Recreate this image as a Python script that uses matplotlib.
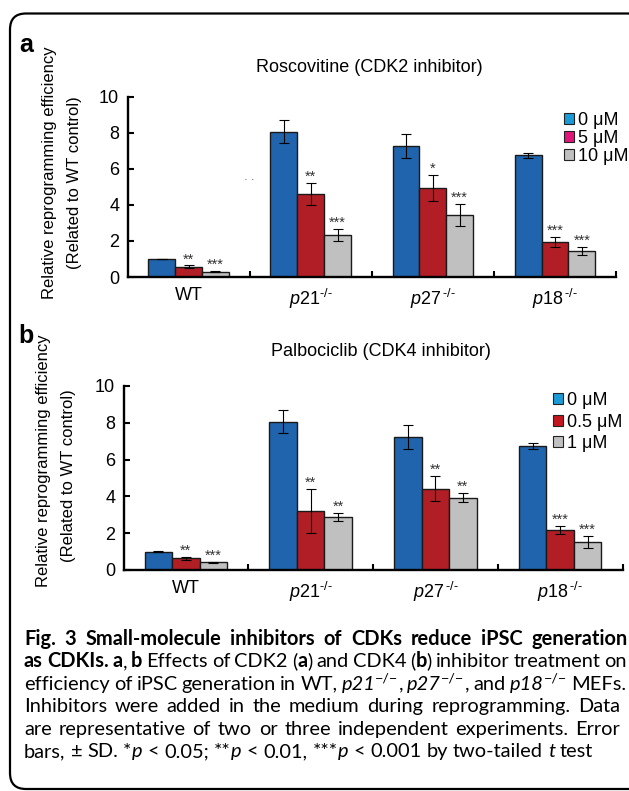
import matplotlib
matplotlib.use("Agg")
import matplotlib.pyplot as plt
import matplotlib.patches as mpatches
import numpy as np

plt.rcParams['font.family'] = ['Liberation Sans', 'DejaVu Sans']
plt.rcParams['mathtext.fontset'] = 'custom'
plt.rcParams['mathtext.rm'] = 'Liberation Sans'
plt.rcParams['mathtext.it'] = 'Liberation Sans:italic'
plt.rcParams['mathtext.bf'] = 'Liberation Sans:bold'

# ---------------- data ----------------
categories = ["WT", r"$\mathit{p21}^{\mathit{\text{-/-}}}$", r"$\mathit{p27}^{\,\mathit{\text{-/-}}}$",
              r"$\mathit{p18}^{\,\mathit{\text{-/-}}}$"]

title_a = "Roscovitine (CDK2 inhibitor)"
labels_a = ["0 μM", "5 μM", "10 μM"]
values_a = [[1.00, 8.06, 7.26, 6.74],
            [0.57, 4.59, 4.94, 1.94],
            [0.30, 2.31, 3.44, 1.43]]
errors_a = [[0.02, 0.62, 0.65, 0.15],
            [0.07, 0.60, 0.71, 0.30],
            [0.05, 0.33, 0.60, 0.22]]
stars_a = [["", "", "", ""],
           ["**", "**", "*", "***"],
           ["***", "***", "***", "***"]]

title_b = "Palbociclib (CDK4 inhibitor)"
labels_b = ["0 μM", "0.5 μM", "1 μM"]
values_b = [[1.00, 8.05, 7.25, 6.72],
            [0.63, 3.21, 4.42, 2.19],
            [0.42, 2.88, 3.93, 1.54]]
errors_b = [[0.02, 0.62, 0.65, 0.16],
            [0.08, 1.20, 0.67, 0.22],
            [0.04, 0.23, 0.23, 0.33]]
stars_b = [["", "", "", ""],
           ["**", "**", "**", "***"],
           ["***", "**", "**", "***"]]

yticks = [0, 2, 4, 6, 8, 10]
ylabel_1 = "Relative reprogramming efficiency"
ylabel_2 = "(Related to WT control)"

bar_colors = ["#1F64AC", "#B21E26", "#C0C0C0"]
legend_colors_a = ["#1A9BD7", "#E2157A", "#C0C0C0"]
legend_colors_b = ["#1A9BD7", "#C3161F", "#C0C0C0"]

caption_lines = [
    "§Fig. 3 Small-molecule inhibitors of CDKs reduce iPSC generation§",
    "§as CDKIs. a§, §b§ Effects of CDK2 (§a§) and CDK4 (§b§) inhibitor treatment on",
    "efficiency of iPSC generation in WT, ~p21~^\u2212/\u2212^, ~p27~^\u2212/\u2212^, and ~p18~^\u2212/\u2212^ MEFs.",
    "Inhibitors were added in the medium during reprogramming. Data",
    "are representative of two or three independent experiments. Error",
    "bars, \u00b1 SD. *~p~ < 0.05; **~p~ < 0.01, ***~p~ < 0.001 by two-tailed ~t~ test",
]
caption_right = [628, 627, 626, 620, 620, None]

# ---------------- figure ----------------
W, H = 629, 791
fig = plt.figure(figsize=(W / 100, H / 100), dpi=100)


def fx(px):
    return px / W


def fy(py):
    return 1 - py / H


# rounded frame
frame = mpatches.FancyBboxPatch((0.10, (H - 789) / 100), 6.45 - 0.10, (789 - 13.5) / 100,
                                boxstyle="round,pad=0,rounding_size=0.16",
                                transform=fig.dpi_scale_trans, facecolor="none",
                                edgecolor="black", linewidth=1.6, clip_on=False)
fig.patches.append(frame)


def panel(ax, values, errors, stars, labels, legend_colors, legend_xy, legend_spacing, tick_fs):
    x = np.arange(len(categories))
    w = 0.22
    for i, (vals, errs) in enumerate(zip(values, errors)):
        xs = x + (i - 1) * w
        ax.bar(xs, vals, width=w, color=bar_colors[i], edgecolor="#1a1a1a", linewidth=1.0,
               yerr=errs, capsize=3.6, error_kw=dict(elinewidth=0.8, capthick=0.8, ecolor="black"),
               zorder=2)
        for xi, v, e, s in zip(xs, vals, errors[i], stars[i]):
            if s:
                ax.text(xi, v + e + 0.12, s, ha="center", va="baseline", fontsize=10.5,
                        color="#333333")
    ax.set_xlim(-0.5, 3.5)
    ax.set_ylim(0, 10)
    ax.set_yticks(yticks)
    ax.set_xticks(x)
    ax.set_xticklabels(categories)
    ax.set_xticks([0.5, 1.5, 2.5, 3.5], minor=True)
    ax.tick_params(axis="x", which="major", length=0, pad=7, labelsize=tick_fs)
    ax.tick_params(axis="x", which="minor", direction="in", length=4, width=1.5)
    ax.tick_params(axis="y", direction="in", length=4, width=1.5, pad=6, labelsize=tick_fs)
    for sp in ["top", "right"]:
        ax.spines[sp].set_visible(False)
    for sp in ["left", "bottom"]:
        ax.spines[sp].set_linewidth(1.7)
    ax.patch.set_visible(False)
    handles = [mpatches.Patch(facecolor=c, edgecolor="#222222", linewidth=0.8) for c in legend_colors]
    ax.legend(handles, labels, loc="upper left", bbox_to_anchor=(fx(legend_xy[0]), fy(legend_xy[1])),
              bbox_transform=fig.transFigure, frameon=False, borderpad=0, borderaxespad=0,
              handlelength=0.55, handleheight=0.55, handletextpad=0.2,
              labelspacing=legend_spacing, fontsize=tick_fs)


axA = fig.add_axes([fx(127.5), fy(277), (616 - 127.5) / W, (277 - 96.7) / H])
panel(axA, values_a, errors_a, stars_a, labels_a, legend_colors_a, (564, 112), 0.05, 13)
axA.text(0.5, 5.4, "\u00b7 \u00b7", ha="center", va="center", fontsize=8, color="#333333")

axB = fig.add_axes([fx(123.5), fy(570), (622.5 - 123.5) / W, (570 - 386) / H])
panel(axB, values_b, errors_b, stars_b, labels_b, legend_colors_b, (553, 392), 0.25, 13)

# titles and labels
fig.text(fx(369), fy(67), title_a, ha="center", va="center", fontsize=13)
fig.text(fx(381), fy(352), title_b, ha="center", va="center", fontsize=13)
fig.text(fx(26), fy(45), "a", ha="center", va="center", fontsize=18, fontweight="bold")
fig.text(fx(26), fy(336), "b", ha="center", va="center", fontsize=18, fontweight="bold")
for (x1, y1, x2, y2) in [(50, 173, 74, 183), (44, 461, 68, 476)]:
    fig.text(fx(x1), fy(y1), ylabel_1, rotation=90, ha="center", va="center", fontsize=12)
    fig.text(fx(x2), fy(y2), ylabel_2, rotation=90, ha="center", va="center", fontsize=12)

# ---------------- caption with mixed styles, justified ----------------
renderer = fig.canvas.get_renderer()
CAP_FAMILY = "Lato"
left_px = 24
base0, line_gap = 645, 22.4
MIN_SPACE = 0.75   # tightest allowed word spacing (fraction of a normal space)


def parse(line):
    words, cur, piece = [], [], ""
    state = {"b": False, "i": False, "s": False}

    def flush():
        nonlocal piece
        if piece:
            cur.append((piece, state["b"], state["i"], state["s"]))
            piece = ""
    for ch in line:
        if ch == "§":
            flush(); state["b"] = not state["b"]
        elif ch == "~":
            flush(); state["i"] = not state["i"]
        elif ch == "^":
            flush(); state["s"] = not state["s"]
        elif ch == " ":
            flush()
            if cur:
                words.append(cur)
            cur = []
        else:
            piece += ch
    flush()
    if cur:
        words.append(cur)
    return words


def make_text(s, b, i, sp, fs):
    size = fs * 0.72 if sp else fs
    return fig.text(0, 0, s, fontsize=size, family=[CAP_FAMILY, "DejaVu Sans"],
                    fontweight="bold" if b else "normal",
                    fontstyle="italic" if i else "normal", va="baseline", ha="left")


def width_of(t):
    return t.get_window_extent(renderer).width


def advance_of(s, b, i, sp, fs):
    # width of s followed by "n" minus width of "n": approximates the advance of s
    t1 = make_text(s + "n", b, i, sp, fs)
    t2 = make_text("n", b, i, sp, fs)
    w = width_of(t1) - width_of(t2)
    t1.remove(); t2.remove()
    return w


def space_width(fs, bold):
    t1 = make_text("n n", bold, False, False, fs)
    t2 = make_text("nn", bold, False, False, fs)
    w = width_of(t1) - width_of(t2)
    t1.remove(); t2.remove()
    return w


def build_line(line, fs):
    words = parse(line)
    items = []
    for wd in words:
        arts = []
        for k, (s, b, i, sp) in enumerate(wd):
            t = make_text(s, b, i, sp, fs)
            if k < len(wd) - 1:
                w = advance_of(s, b, i, sp, fs)
            else:
                w = width_of(t)
            arts.append((t, sp, w))
        items.append(arts)
    wsum = sum(a[2] for arts in items for a in arts)
    return items, wsum


# measure natural widths at a reference size and fit the font size
ref_fs = 10.0
ref_sp = space_width(ref_fs, False)
ratios = []
for line, rt in zip(caption_lines, caption_right):
    items, wsum = build_line(line, ref_fs)
    nat = wsum + MIN_SPACE * ref_sp * (len(items) - 1)
    for arts in items:
        for a in arts:
            a[0].remove()
    if rt is not None:
        ratios.append((rt - left_px) / nat)
cap_fs = ref_fs * min(ratios) * 0.998

sp_w = space_width(cap_fs, False)
for li, (line, rt) in enumerate(zip(caption_lines, caption_right)):
    items, wsum = build_line(line, cap_fs)
    ngaps = len(items) - 1
    if rt is not None and ngaps > 0:
        gap = (rt - left_px - wsum) / ngaps
    else:
        gap = sp_w
    x = left_px
    yb = base0 + li * line_gap
    for arts in items:
        for k, (t, sp, w) in enumerate(arts):
            dy = cap_fs * 100 / 72 * 0.38 if sp else 0
            t.set_position((fx(x), fy(yb - dy)))
            x += w
        x += gap

fig.savefig("out.png", dpi=100)
